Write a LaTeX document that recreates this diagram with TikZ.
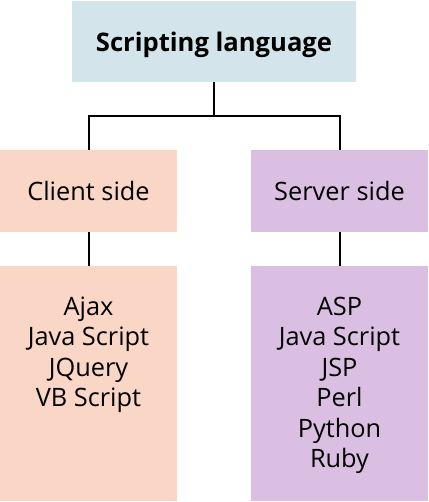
\documentclass[tikz,border=0pt]{standalone}
\usepackage{fontspec}
\setmainfont{Open Sans}
\definecolor{topc}{RGB}{211,228,234}
\definecolor{clientc}{RGB}{250,214,198}
\definecolor{serverc}{RGB}{219,191,226}
\begin{document}
\begin{tikzpicture}[x=0.75pt,y=-0.75pt,
  box/.style={draw=none,inner sep=0pt,outer sep=0pt},
  headbox/.style={box,minimum width=132.75pt,minimum height=61.5pt,text depth=0pt},
  listbox/.style={box,minimum width=132.75pt,minimum height=176.25pt},
  listtext/.style={inner sep=0pt,anchor=north,align=center,font=\fontsize{19}{22.9}\selectfont},
  conn/.style={draw=black,line width=1.5pt}]
\useasboundingbox (0,0) rectangle (428,502);
\node[box,fill=topc,minimum width=213pt,minimum height=60.75pt,text depth=0pt,font=\fontsize{19.2}{22}\selectfont\bfseries] (top) at (214,42) {Scripting language};
\node[headbox,fill=clientc,font=\fontsize{19}{22}\selectfont] (client) at (88.5,191) {Client side};
\node[headbox,fill=serverc,font=\fontsize{19}{22}\selectfont] (server) at (339.5,191) {Server side};
\node[listbox,fill=clientc] (clientlist) at (88.5,383.5) {};
\node[listbox,fill=serverc] (serverlist) at (339.5,383.5) {};
\node[listtext] (clienttext) at (88.5,296.5) {Ajax\\Java Script\\JQuery\\VB Script};
\node[listtext] (servertext) at (339.5,296.5) {ASP\\Java Script\\JSP\\Perl\\Python\\Ruby};
\draw[conn] (top.south) -- ++(0,33.5) coordinate (junction);
\draw[conn] (junction) -| (client.north);
\draw[conn] (junction) -| (server.north);
\draw[conn] (client.south) -- (clientlist.north);
\draw[conn] (server.south) -- (serverlist.north);
\end{tikzpicture}
\end{document}
